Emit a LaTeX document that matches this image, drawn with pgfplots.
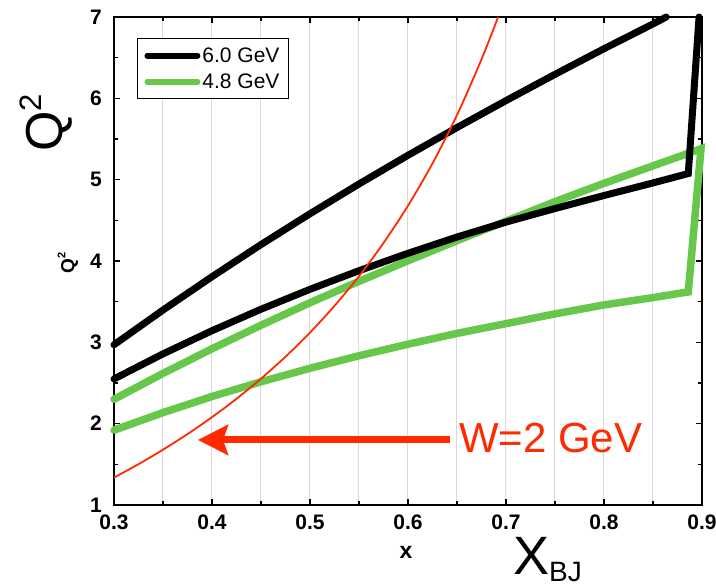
\documentclass[border=0pt]{standalone}
\usepackage{fontspec}
\setmainfont{Liberation Sans}
\usepackage{pgfplots}
\pgfplotsset{compat=1.18}
\usetikzlibrary{arrows.meta}

\definecolor{beamlow}{HTML}{66C74A}
\definecolor{wline}{HTML}{FF2A00}
\definecolor{gridgray}{HTML}{D9D9D9}

\newcommand{\ticklabelfont}{\bfseries\fontsize{21}{21}\selectfont}

\begin{document}
\begin{tikzpicture}
\begin{axis}[
  scale only axis,
  width=588pt, height=488pt,
  xmin=0.3, xmax=0.9, ymin=1, ymax=7,
  xtick={0.3,0.4,0.5,0.6,0.7,0.8,0.9},
  ytick={1,2,3,4,5,6,7},
  minor x tick num=1, minor y tick num=1,
  xmajorgrids, xminorgrids,
  grid style={gridgray, line width=1pt},
  major tick length=6pt, minor tick length=4pt,
  axis line style={line width=1.3pt},
  every tick/.style={black, line width=1.2pt},
  /pgf/number format/assume math mode=true,
  xticklabel style={font=\ticklabelfont, inner sep=2pt, yshift=-8pt,
    /pgf/number format/.cd, fixed, fixed zerofill, precision=1},
  yticklabel style={font=\ticklabelfont, inner sep=2pt, xshift=-10pt},
  clip=false,
  legend style={at={(0.039,0.957)}, anchor=north west, draw=black,
    line width=1pt, font=\fontsize{21}{21}\selectfont,
    inner xsep=7pt, inner ysep=7pt, row sep=6pt},
  legend cell align=left,
  legend image code/.code={\draw[#1, line width=6pt, line cap=round] (0pt,0pt) -- (50pt,0pt);},
]

% 6.0 GeV: upper edge
\addplot[black, line width=7pt, line cap=round, line join=round] coordinates {
  (0.30,2.970) (0.35,3.397) (0.40,3.807) (0.45,4.202) (0.50,4.581)
  (0.55,4.947) (0.60,5.300) (0.65,5.641) (0.70,5.972) (0.75,6.295)
  (0.80,6.610) (0.85,6.915) (0.8635,7.00)
};
\addlegendentry{6.0 GeV}

% 4.8 GeV: lower edge, right edge, upper edge
\addplot[beamlow, line width=7.5pt, line cap=round, line join=miter] coordinates {
  (0.30,1.920) (0.35,2.136) (0.40,2.334) (0.45,2.515) (0.50,2.681)
  (0.55,2.835) (0.60,2.977) (0.65,3.110) (0.70,3.230) (0.75,3.350)
  (0.80,3.460) (0.85,3.550) (0.886,3.620)
  (0.899,5.38)
  (0.85,5.170) (0.80,4.955) (0.75,4.730) (0.70,4.490) (0.65,4.250)
  (0.60,4.003) (0.55,3.750) (0.50,3.487) (0.45,3.210) (0.40,2.921)
  (0.35,2.618) (0.30,2.300)
};
\addlegendentry{4.8 GeV}

% 6.0 GeV: lower edge and right edge
\addplot[black, line width=7pt, line cap=round, line join=miter, forget plot] coordinates {
  (0.30,2.550) (0.35,2.858) (0.40,3.143) (0.45,3.407) (0.50,3.652)
  (0.55,3.881) (0.60,4.095) (0.65,4.295) (0.70,4.478) (0.75,4.645)
  (0.80,4.805) (0.85,4.960) (0.886,5.075)
  (0.897,7.00)
};

% W = 2 GeV
\addplot[wline, line width=1.8pt, smooth, forget plot] coordinates {
  (0.300,1.337) (0.325,1.502) (0.350,1.680) (0.375,1.872) (0.400,2.080)
  (0.425,2.306) (0.450,2.553) (0.475,2.823) (0.500,3.120) (0.525,3.449)
  (0.550,3.813) (0.575,4.221) (0.600,4.680) (0.625,5.200) (0.650,5.794)
  (0.675,6.480) (0.692,7.000)
};

% arrow pointing at the W = 2 GeV curve
\addplot[wline, line width=7pt, -{Stealth[length=30pt, width=30pt, inset=5pt]}, forget plot]
  coordinates {(0.643,1.80) (0.3857,1.80)};

\node[anchor=base west, inner sep=0pt, text=wline, font=\fontsize{42}{42}\selectfont]
  at (axis cs:0.652,1.651) {W=2 GeV};
\end{axis}

% axis titles
\node[rotate=90, inner sep=0pt] at (-68pt,382pt)
  {\fontsize{52}{52}\selectfont Q\raisebox{21pt}{\fontsize{31}{31}\selectfont 2}};
\node[rotate=90, inner sep=0pt] at (-46pt,242pt)
  {\bfseries\fontsize{19}{19}\selectfont Q\raisebox{9pt}{\fontsize{11}{11}\selectfont 2}};
\node[inner sep=0pt] at (292pt,-47pt) {\bfseries\fontsize{23}{23}\selectfont x};
\node[anchor=base west, inner sep=0pt] at (399pt,-70pt)
  {\fontsize{54}{54}\selectfont X\raisebox{-7pt}{\fontsize{28}{28}\selectfont BJ}};

\pgfresetboundingbox
\path[use as bounding box] (-114pt,-82pt) rectangle (602pt,505pt);
\end{tikzpicture}
\end{document}
